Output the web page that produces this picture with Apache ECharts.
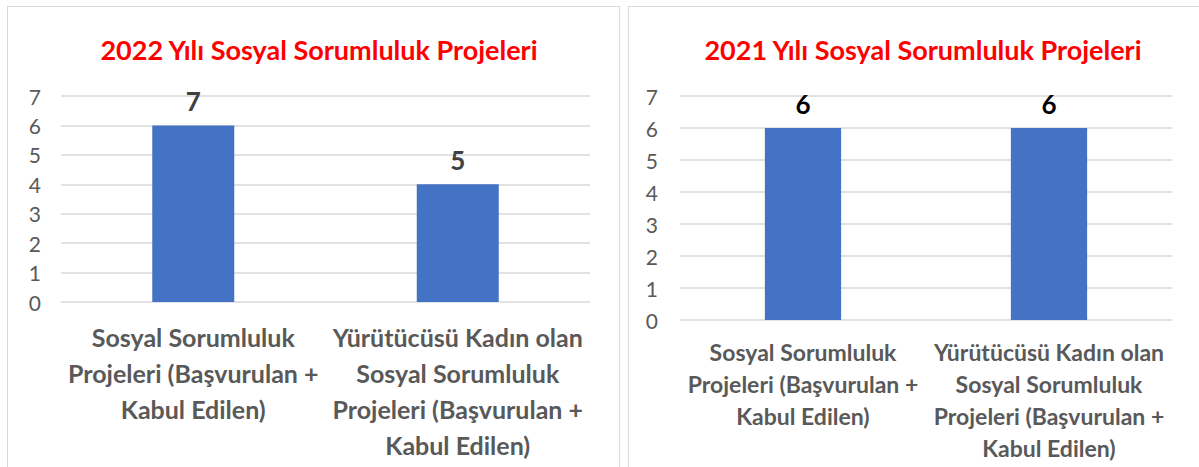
<!DOCTYPE html>
<html>
<head>
<meta charset="utf-8">
<script src="https://cdn.jsdelivr.net/npm/echarts@6.0.0/dist/echarts.min.js"></script>
<style>
  html, body { margin: 0; padding: 0; background: #fff; }
  #wrap { position: relative; width: 1199px; height: 467px; overflow: hidden; }
  .frame { position: absolute; border: 1px solid #d9d9d9; box-sizing: border-box; }
  #chart { position: absolute; left: 0; top: 0; width: 1199px; height: 467px; }
</style>
</head>
<body>
<div id="wrap">
  <div class="frame" style="left:7px;top:6px;width:613px;height:470px;"></div>
  <div class="frame" style="left:628px;top:6px;width:580px;height:470px;"></div>
  <div id="chart"></div>
</div>
<script>
"use strict";

// --- data ---
const categories = [
  "Sosyal Sorumluluk\nProjeleri (Başvurulan +\nKabul Edilen)",
  "Yürütücüsü Kadın olan\nSosyal Sorumluluk\nProjeleri (Başvurulan +\nKabul Edilen)",
];
const title2022 = "2022 Yılı Sosyal Sorumluluk Projeleri";
const title2021 = "2021 Yılı Sosyal Sorumluluk Projeleri";
// bar heights as drawn, and the data labels printed above them
const values2022 = [6, 4];
const labels2022 = ["7", "5"];
const values2021 = [6, 6];
const labels2021 = ["6", "6"];
const yTicks = [0, 1, 2, 3, 4, 5, 6, 7];

const FONT = "Lato, 'Open Sans', sans-serif";
const BLUE = "#4472C4";
const GRID = "#d9d9d9";
const MUTED = "#595959";

const yAxisOf = (gridIndex, margin) => ({
  type: "value", gridIndex,
  min: yTicks[0], max: yTicks[yTicks.length - 1], interval: 1,
  axisLine: { show: false }, axisTick: { show: false },
  axisLabel: { color: MUTED, fontSize: 21, fontFamily: FONT, margin },
  splitLine: { lineStyle: { color: GRID, width: 1.5 } },
});

const xAxisOf = (gridIndex, size, lh, margin) => ({
  type: "category", gridIndex, data: categories,
  axisLine: { show: false }, axisTick: { show: false },
  axisLabel: { color: MUTED, fontSize: size, lineHeight: lh, fontWeight: "bold",
               fontFamily: FONT, margin, interval: 0 },
});

const barOf = (idx, values, labels, labelColor) => ({
  type: "bar", xAxisIndex: idx, yAxisIndex: idx, data: values,
  barWidth: "31%", itemStyle: { color: BLUE },
  label: {
    show: true, position: "top", distance: 11,
    formatter: (p) => labels[p.dataIndex],
    color: labelColor, fontSize: 26, fontWeight: "bold", fontFamily: FONT,
  },
});

const chart = echarts.init(document.getElementById("chart"), null, { renderer: "svg" });
chart.setOption({
  animation: false,
  backgroundColor: "transparent",
  title: [
    { text: title2022, left: 314, top: 31, textAlign: "center",
      textStyle: { color: "#FF0000", fontSize: 27, fontWeight: "bold", fontFamily: FONT } },
    { text: title2021, left: 918, top: 31, textAlign: "center",
      textStyle: { color: "#FF0000", fontSize: 27, fontWeight: "bold", fontFamily: FONT } },
  ],
  grid: [
    { left: 61, right: 609, top: 96, height: 206 },
    { left: 680, right: 27, top: 96, height: 224 },
  ],
  xAxis: [xAxisOf(0, 25, 36, 17), xAxisOf(1, 23, 32, 16)],
  yAxis: [yAxisOf(0, 20), yAxisOf(1, 22)],
  series: [
    barOf(0, values2022, labels2022, "#404040"),
    barOf(1, values2021, labels2021, "#000000"),
  ],
});
</script>
</body>
</html>
